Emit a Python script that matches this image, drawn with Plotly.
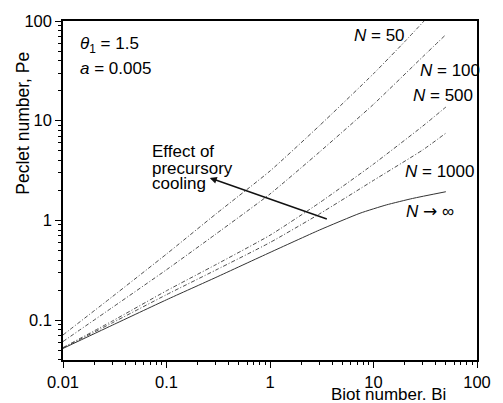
import numpy as np
import plotly.graph_objects as go

# ---- data ----
bi_main = [0.01, 0.03, 0.1, 0.3, 1, 3, 10, 30, 50]
bi_n50 = [0.01, 0.03, 0.1, 0.3, 1, 3, 10, 20, 30.8]
pe_n50 = [0.071, 0.172, 0.46, 1.16, 3.13, 8.9, 29.6, 62, 100]
pe_n100 = [0.061, 0.134, 0.32, 0.73, 1.84, 4.84, 14.6, 43.9, 73]
pe_n500 = [0.053, 0.098, 0.197, 0.36, 0.71, 1.5, 3.67, 8.85, 13.7]
pe_n1000 = [0.0525, 0.094, 0.18, 0.318, 0.60, 1.16, 2.52, 5.1, 7.5]
bi_inf = [0.01, 0.03, 0.1, 0.3, 1, 3, 7.4, 13.3, 23.8, 50]
pe_inf = [0.052, 0.089, 0.16, 0.268, 0.477, 0.80, 1.18, 1.43, 1.66, 1.94]

x_tickvals = [0.01, 0.1, 1, 10, 100]
x_ticktext = ["0.01", "0.1", "1", "10", "100"]
y_tickvals = [0.1, 1, 10, 100]
y_ticktext = ["0.1", "1", "10", "100"]

ARROW = '<span style="font-family:DejaVu Sans">\u2192</span>'
curve_labels = ["<i>N</i> = 50", "<i>N</i> = 100", "<i>N</i> = 500", "<i>N</i> = 1000",
                "<i>N</i> " + ARROW + " \u221e"]
label_bi = [6.17, 27.1, 23.2, 19.1, 19.5]
label_pe = [71.5, 32.2, 17.8, 3.09, 1.245]

param_texts = ["<i>\u03b8</i><sub>1</sub> = 1.5", "<i>a</i> = 0.005"]
param_bi = [0.01387, 0.01387]
param_pe = [57.3, 33.2]

effect_lines = ["Effect of", "precursory", "cooling"]
effect_bi = [0.0695, 0.0695, 0.0695]
effect_pe = [4.93, 3.31, 2.33]
arrow_head = (0.262, 2.67)
arrow_tail = (3.66, 1.02)

FONT = "Liberation Sans, Arial, sans-serif"
dash_style = "4px,2px,1px,2px"

fig = go.Figure()
for bi, pe in [(bi_n50, pe_n50), (bi_main, pe_n100), (bi_main, pe_n500), (bi_main, pe_n1000)]:
    fig.add_trace(go.Scatter(x=bi, y=pe, mode="lines",
                             line=dict(color="#3a3a3a", width=0.9, dash=dash_style,
                                       shape="spline", smoothing=0.5),
                             showlegend=False, hoverinfo="skip"))
fig.add_trace(go.Scatter(x=bi_inf, y=pe_inf, mode="lines",
                         line=dict(color="#333333", width=1.0, shape="spline", smoothing=0.5),
                         showlegend=False, hoverinfo="skip"))

annotations = []
for t, b, p in zip(curve_labels, label_bi, label_pe):
    annotations.append(dict(x=np.log10(b), y=np.log10(p), xref="x", yref="y", text=t,
                            showarrow=False, xanchor="left", yanchor="middle",
                            font=dict(family=FONT, size=17, color="black")))
for t, b, p in zip(param_texts, param_bi, param_pe):
    annotations.append(dict(x=np.log10(b), y=np.log10(p), xref="x", yref="y", text=t,
                            showarrow=False, xanchor="left", yanchor="middle",
                            font=dict(family=FONT, size=17, color="black")))
for t, b, p in zip(effect_lines, effect_bi, effect_pe):
    annotations.append(dict(x=np.log10(b), y=np.log10(p), xref="x", yref="y", text=t,
                            showarrow=False, xanchor="left", yanchor="middle",
                            font=dict(family=FONT, size=17, color="black")))
annotations.append(dict(x=np.log10(arrow_head[0]), y=np.log10(arrow_head[1]), xref="x", yref="y",
                        ax=np.log10(arrow_tail[0]), ay=np.log10(arrow_tail[1]), axref="x", ayref="y",
                        text="", showarrow=True, arrowhead=2, arrowsize=1, arrowwidth=1.4,
                        arrowcolor="#111111"))
annotations.append(dict(x=0.931, y=-0.102, xref="paper", yref="paper", text="Biot number. Bi",
                        showarrow=False, xanchor="right", yanchor="middle",
                        font=dict(family=FONT, size=17, color="black")))
annotations.append(dict(x=-0.0957, y=0.698, xref="paper", yref="paper", text="Peclet number, Pe",
                        showarrow=False, xanchor="center", yanchor="middle", textangle=-90,
                        font=dict(family=FONT, size=17.5, color="black")))

def minor_vals(lo, hi):
    vals = []
    for e in range(lo, hi):
        for d in range(2, 10):
            vals.append(d * 10.0 ** e)
    return vals

axis_common = dict(type="log", showgrid=False, zeroline=False, showline=True, linecolor="black",
                   linewidth=1.5, mirror=True, ticks="outside", ticklen=6, tickwidth=1,
                   tickcolor="black", tickfont=dict(family=FONT, size=16.5, color="black"),
                   tickmode="array")

fig.update_layout(
    width=503, height=403,
    margin=dict(l=63, r=17, t=17, b=42),
    paper_bgcolor="white", plot_bgcolor="white",
    xaxis=dict(range=[-2, 2], tickvals=x_tickvals, ticktext=x_ticktext,
               minor=dict(ticks="outside", ticklen=3, tickwidth=1, tickcolor="black",
                          tickmode="array", tickvals=minor_vals(-2, 2)),
               **axis_common),
    yaxis=dict(range=[-1.4, 2], tickvals=y_tickvals, ticktext=y_ticktext,
               minor=dict(ticks="outside", ticklen=3, tickwidth=1, tickcolor="black",
                          tickmode="array", tickvals=minor_vals(-2, 2)),
               **axis_common),
    annotations=annotations,
    showlegend=False,
)

# remove the default page margin so the figure fills the window exactly
fig.write_html("out.html", config={"displayModeBar": False},
               post_script="document.body.style.margin='0';document.body.style.overflow='hidden';")
